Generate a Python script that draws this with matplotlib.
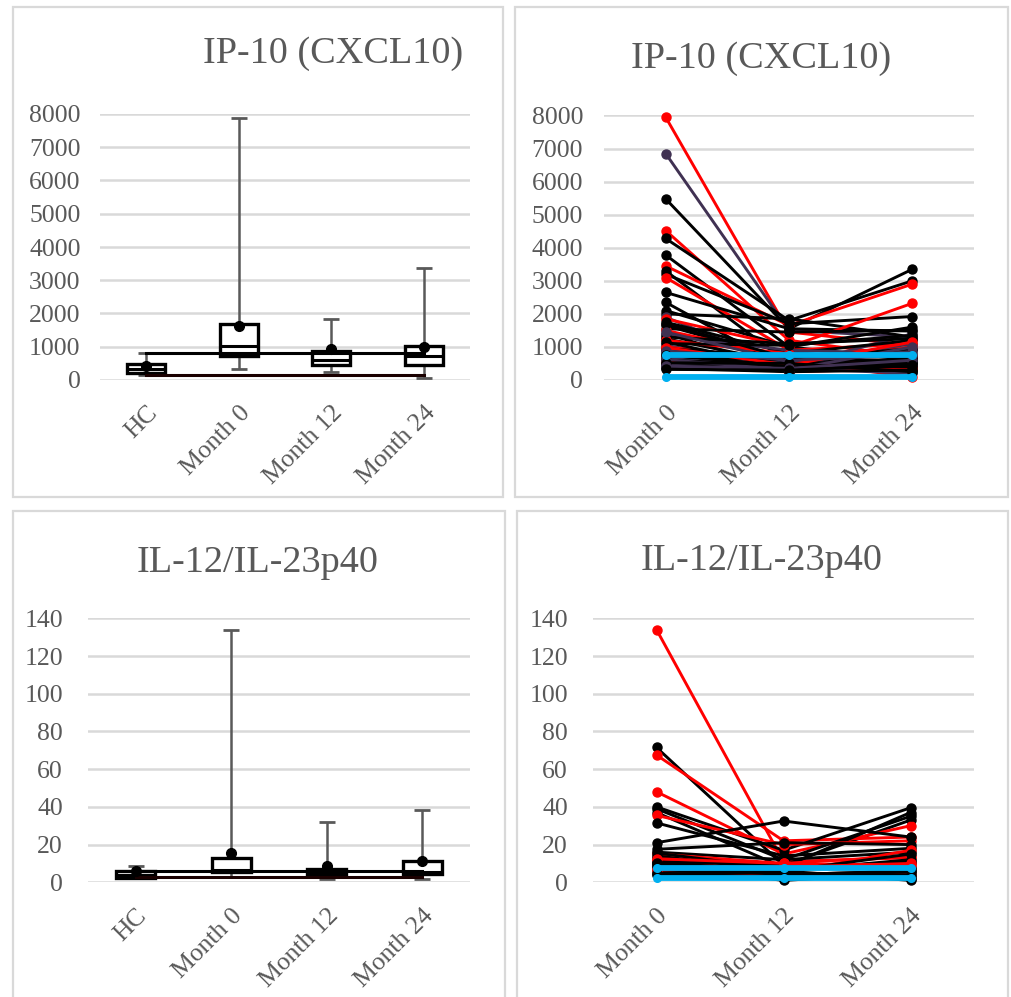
import matplotlib
matplotlib.use("Agg")
import matplotlib.pyplot as plt
from matplotlib.patches import Rectangle
import numpy as np

# ---------------- data ----------------
box_categories = ["HC", "Month 0", "Month 12", "Month 24"]
line_categories = ["Month 0", "Month 12", "Month 24"]

ip10_title = "IP-10 (CXCL10)"
ip10_min = [150, 320, 230, 60]
ip10_q1 = [210, 720, 450, 450]
ip10_median = [330, 1030, 600, 720]
ip10_q3 = [480, 1680, 870, 1030]
ip10_max = [820, 7870, 1820, 3360]
ip10_mean = [420, 1620, 930, 980]
ip10_hc_ref_box = [800, 150]
ip10_hc_ref_line = [750, 100]
ip10_ticks = [0, 1000, 2000, 3000, 4000, 5000, 6000, 7000, 8000]

il12_title = "IL-12/IL-23p40"
il12_min = [2.5, 3.0, 1.5, 1.5]
il12_q1 = [2.4, 5.5, 3.5, 4.2]
il12_median = [4.0, 6.5, 5.0, 5.5]
il12_q3 = [5.9, 12.7, 7.0, 11.3]
il12_max = [8.6, 134, 32.2, 38.3]
il12_mean = [6.0, 15.7, 8.6, 11.3]
il12_hc_ref_box = [6.0, 2.8]
il12_hc_ref_line = [7.7, 2.3]
il12_ticks = [0, 20, 40, 60, 80, 100, 120, 140]

# individual patients (Month 0, Month 12, Month 24) and colour group
ip10_m0 = [7950, 6850, 5480, 4520, 4280, 3780, 3450, 3300, 3200, 3100,
           2650, 2350, 2100, 2000, 1900, 1850, 1750, 1650, 1550, 1500,
           1400, 1350, 1300, 1250, 1200, 1100, 1050, 1000, 950, 900,
           850, 800, 700, 650, 600, 550, 500, 450, 400, 350,
           1700, 1450, 1150, 980, 880, 760, 620, 520, 420, 320]
ip10_m12 = [1450, 1500, 1550, 1200, 1800, 1000, 1650, 500, 1700, 900,
            1550, 300, 1000, 1850, 400, 1000, 800, 600, 1450, 700,
            300, 900, 1100, 500, 800, 1050, 400, 600, 700, 350,
            500, 300, 600, 400, 450, 250, 300, 350, 500, 250,
            650, 550, 350, 450, 600, 400, 300, 500, 350, 300]
ip10_m24 = [1050, 1300, 3350, 700, 3000, 600, 2900, 900, 1920, 1100,
            1480, 400, 1600, 1300, 1400, 2320, 1200, 500, 1500, 1000,
            300, 800, 1250, 600, 400, 1350, 900, 80, 700, 500,
            1100, 300, 600, 450, 250, 350, 650, 200, 550, 300,
            950, 850, 500, 1150, 750, 400, 1000, 250, 600, 450]
ip10_group = ["r", "p", "k", "r", "k", "k", "r", "k", "k", "r",
              "k", "k", "k", "k", "p", "r", "k", "k", "k", "r",
              "k", "p", "k", "k", "r", "k", "p", "r", "k", "k",
              "p", "k", "k", "p", "k", "r", "k", "p", "k", "k",
              "k", "p", "k", "r", "p", "k", "p", "k", "p", "k"]

il12_m0 = [134, 71.5, 67.5, 48, 40, 39, 37, 35.5, 31.5, 21,
           17.5, 16, 15, 14, 13, 12, 11, 10, 9, 8, 7, 6, 5, 4,
           15.5, 12.5, 10.5, 8.5, 6.5, 4.5]
il12_m12 = [11, 9, 22, 15, 17, 12, 8, 20, 14, 32.5,
            21, 12, 10, 6, 8, 5, 9, 4, 1, 6, 3, 5, 2, 3,
            7, 10, 6, 4, 8, 5]
il12_m24 = [13, 33, 24, 30, 39.5, 35, 37, 22, 18, 24,
            20, 16, 14, 12, 10, 17, 8, 6, 5, 1, 4, 3, 7, 2,
            11, 9, 15, 6, 10, 4]
il12_group = ["r", "k", "r", "r", "k", "k", "k", "r", "k", "k",
              "k", "k", "r", "k", "k", "r", "k", "k", "k", "k",
              "r", "k", "k", "k", "k", "r", "k", "k", "r", "k"]

group_colors = {"r": "#FF0000", "k": "#000000", "p": "#403152"}
ref_color = "#00B0F0"

# ---------------- style ----------------
W, H = 1011, 997
TXT = "#595959"
GRID = "#D9D9D9"
FONT = "Liberation Serif"
plt.rcParams["font.family"] = [FONT, "DejaVu Serif"]

fig = plt.figure(figsize=(W / 100, H / 100), dpi=100)


def frect(x0, x1, ytop, ybot):
    return [x0 / W, 1 - ybot / H, (x1 - x0) / W, (ybot - ytop) / H]


def panel(x0, x1, y0, y1):
    fig.add_artist(Rectangle((x0 / W, 1 - y1 / H), (x1 - x0) / W, (y1 - y0) / H,
                             transform=fig.transFigure, fill=False,
                             ec=GRID, lw=1.6))


def style_axes(ax, ticks, ymax, labels, pad_y):
    ax.set_ylim(0, ymax)
    ax.set_yticks(ticks)
    ax.set_yticklabels([str(t) for t in ticks])
    for s in ax.spines.values():
        s.set_visible(False)
    ax.tick_params(axis="both", length=0, labelsize=18.5, labelcolor=TXT)
    ax.tick_params(axis="y", pad=pad_y)
    ax.tick_params(axis="x", pad=16)
    ax.set_xticks(range(len(labels)))
    ax.set_xticklabels(labels, rotation=45, ha="right", rotation_mode="anchor")
    ax.yaxis.grid(True, color=GRID, lw=1.8)
    ax.set_axisbelow(True)
    ax.set_facecolor("none")


def boxplot(ax, mins, q1, med, q3, mx, mean, ref, ymax):
    x = np.arange(len(mins))
    bw = 0.41
    cw = 0.17
    ax.vlines(x, q3, mx, color=TXT, lw=1.8, zorder=2)
    ax.vlines(x, mins, q1, color=TXT, lw=1.8, zorder=2)
    ax.hlines(mx, x - cw / 2, x + cw / 2, color=TXT, lw=2.0, zorder=2)
    ax.hlines(mins, x - cw / 2, x + cw / 2, color=TXT, lw=2.0, zorder=2)
    ax.bar(x, np.array(q3) - np.array(q1), bottom=q1, width=bw,
           facecolor="white", edgecolor="black", lw=2.4, zorder=3)
    ax.hlines(med, x - bw / 2, x + bw / 2, color="black", lw=2.2, zorder=4)
    ax.plot([x[0], x[-1]], [ref[0], ref[0]], color="black", lw=2.2, zorder=5)
    ax.plot([x[0], x[-1]], [ref[1], ref[1]], color="#1a0000", lw=2.2, zorder=5)
    ax.plot(x, mean, "o", color="black", ms=7, zorder=6, ls="none")
    ax.set_xlim(-0.5, len(mins) - 0.5)


def lineplot(ax, m0, m12, m24, groups, ref):
    x = np.arange(3)
    for a, b, c, g in zip(m0, m12, m24, groups):
        col = group_colors[g]
        ax.plot(x, [a, b, c], color=col, lw=2.1, marker="o", ms=6.5,
                mfc=col, mec=col, zorder=3)
    for r in ref:
        ax.plot(x, [r, r, r], color=ref_color, lw=4.2, marker="o", ms=5.5,
                solid_capstyle="round", zorder=5)
    ax.set_xlim(-0.5, 2.5)


# panel frames
panel(13, 503, 7, 497)
panel(515, 1008, 7, 497)
panel(13, 505, 511, 1005)
panel(517, 1008, 511, 1005)

# top-left: IP-10 box
ax1 = fig.add_axes(frect(100, 470, 114, 380))
boxplot(ax1, ip10_min, ip10_q1, ip10_median, ip10_q3, ip10_max, ip10_mean,
        ip10_hc_ref_box, 8000)
style_axes(ax1, ip10_ticks, 8000, box_categories, 14)
fig.text(463 / W, 1 - 63 / H, ip10_title, ha="right", va="baseline",
         fontsize=27.5, color=TXT)

# top-right: IP-10 lines
ax2 = fig.add_axes(frect(604, 974, 115.5, 380))
lineplot(ax2, ip10_m0, ip10_m12, ip10_m24, ip10_group, ip10_hc_ref_line)
style_axes(ax2, ip10_ticks, 8000, line_categories, 15)
fig.text(761 / W, 1 - 68 / H, ip10_title, ha="center", va="baseline",
         fontsize=27.5, color=TXT)

# bottom-left: IL-12 box
ax3 = fig.add_axes(frect(88, 470, 618.3, 882.3))
boxplot(ax3, il12_min, il12_q1, il12_median, il12_q3, il12_max, il12_mean,
        il12_hc_ref_box, 140)
style_axes(ax3, il12_ticks, 140, box_categories, 18)
fig.text(258 / W, 1 - 571.5 / H, il12_title, ha="center", va="baseline",
         fontsize=27.5, color=TXT)

# bottom-right: IL-12 lines
ax4 = fig.add_axes(frect(593, 974, 618.3, 882.3))
lineplot(ax4, il12_m0, il12_m12, il12_m24, il12_group, il12_hc_ref_line)
style_axes(ax4, il12_ticks, 140, line_categories, 18)
fig.text(762 / W, 1 - 570.5 / H, il12_title, ha="center", va="baseline",
         fontsize=27.5, color=TXT)

for ax in (ax1, ax2, ax3, ax4):
    for art in ax.lines + ax.collections + ax.patches:
        art.set_clip_on(False)

fig.savefig("out.png", dpi=100, facecolor="white")
